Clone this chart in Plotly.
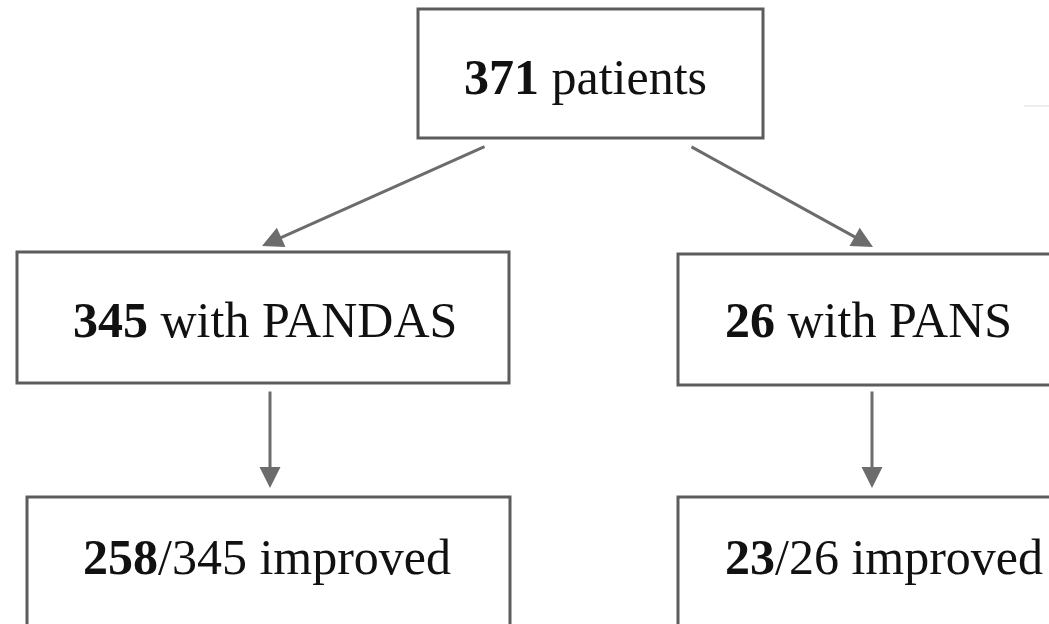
import plotly.graph_objects as go

# Flowchart data
total = 371
groups = ["PANDAS", "PANS"]
group_n = [345, 26]
improved_n = [258, 23]

# Layout (pixel-space) for nodes
top_box = dict(x0=418, y0=9, x1=763, y1=138)
mid_boxes = [dict(x0=17, y0=252, x1=509, y1=383), dict(x0=678, y0=254, x1=1062, y1=385)]
bot_boxes = [dict(x0=27, y0=497, x1=510, y1=640), dict(x0=678, y0=497, x1=1062, y1=640)]
top_text_x = 585
mid_text_x = [265, 868]
bot_text_x = [267, 884]

W, H = 1049, 624
box_color = "#5c5c5c"
arrow_color = "#6c6c6c"
font = dict(family="Liberation Serif, Times New Roman, serif", size=50, color="#111111")

fig = go.Figure()
fig.add_trace(go.Scatter(x=[0, W], y=[0, H], mode="markers", marker=dict(opacity=0), hoverinfo="skip", showlegend=False))

shapes = []
for b in [top_box] + mid_boxes + bot_boxes:
    shapes.append(dict(type="rect", xref="x", yref="y", line=dict(color=box_color, width=3),
                       fillcolor="rgba(0,0,0,0)", **b))
# faint artifact top right
shapes.append(dict(type="line", xref="x", yref="y", x0=1024, x1=1049, y0=106, y1=106,
                   line=dict(color="#eeeeee", width=2)))

annotations = []
annotations.append(dict(x=top_text_x, y=77, xref="x", yref="y",
                        text=f"<b>{total}</b> patients", showarrow=False, font=font))
for i in range(2):
    annotations.append(dict(x=mid_text_x[i], y=320, xref="x", yref="y",
                            text=f"<b>{group_n[i]}</b> with {groups[i]}", showarrow=False, font=font))
    annotations.append(dict(x=bot_text_x[i], y=557, xref="x", yref="y",
                            text=f"<b>{improved_n[i]}</b>/{group_n[i]} improved", showarrow=False, font=font))

arrows = [((486, 146), (262, 246)), ((690, 146), (873, 247)),
          ((270, 390), (270, 488)), ((872, 390), (872, 488))]
for (sx, sy), (tx, ty) in arrows:
    annotations.append(dict(x=tx, y=ty, ax=sx, ay=sy, xref="x", yref="y", axref="x", ayref="y",
                            showarrow=True, arrowhead=2, arrowsize=1.4, arrowwidth=3,
                            arrowcolor=arrow_color, text=""))

fig.update_layout(
    width=W, height=H, margin=dict(l=0, r=0, t=0, b=0),
    paper_bgcolor="white", plot_bgcolor="white",
    xaxis=dict(range=[0, W], visible=False, fixedrange=True),
    yaxis=dict(range=[H, 0], visible=False, fixedrange=True),
    shapes=shapes, annotations=annotations, showlegend=False,
)
fig.write_html("out.html", config={"displayModeBar": False},
               post_script="document.body.style.margin='0';document.body.style.overflow='hidden';")
